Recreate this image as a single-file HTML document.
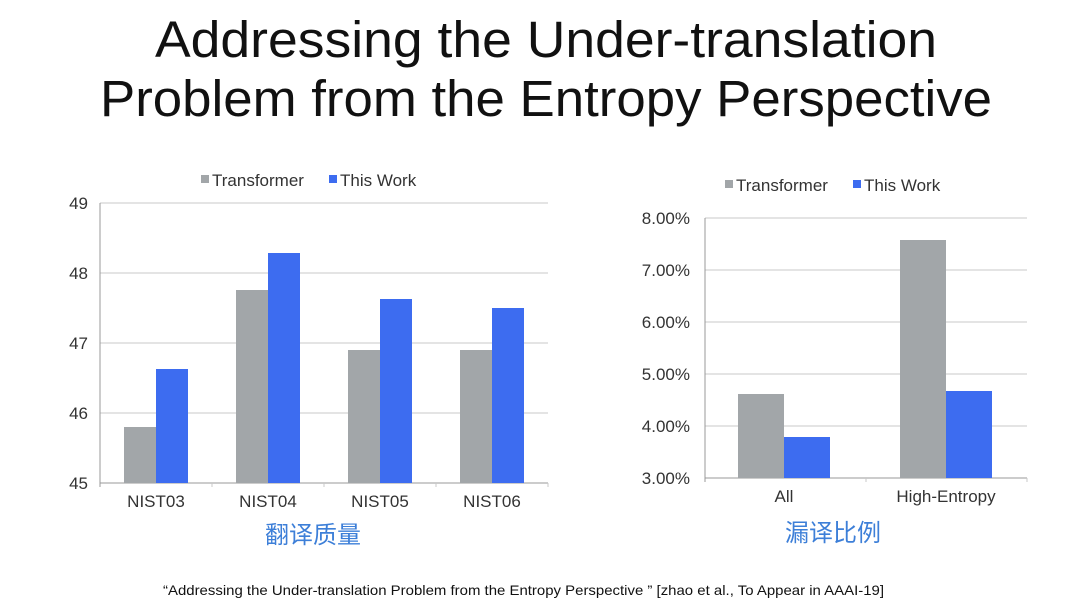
<!DOCTYPE html>
<html><head><meta charset="utf-8"><style>
body{margin:0;background:#fff;width:1080px;height:605px;overflow:hidden}
text{font-family:"Liberation Sans","Noto Sans CJK SC",sans-serif}
</style></head><body>
<svg width="1080" height="605" xmlns="http://www.w3.org/2000/svg">
<text x="155" y="57" font-size="51" fill="#111" textLength="782" lengthAdjust="spacingAndGlyphs">Addressing the Under-translation</text>
<text x="100" y="116" font-size="51" fill="#111" textLength="892" lengthAdjust="spacingAndGlyphs">Problem from the Entropy Perspective</text>
<!-- left chart -->
<g stroke="#c8c8c8" stroke-width="1">
<line x1="100" y1="203" x2="548" y2="203"/><line x1="100" y1="273" x2="548" y2="273"/>
<line x1="100" y1="343" x2="548" y2="343"/><line x1="100" y1="413" x2="548" y2="413"/>
<line x1="100" y1="483" x2="548" y2="483" stroke="#999"/>
<line x1="100" y1="203" x2="100" y2="487" stroke="#999"/>
<line x1="212" y1="483" x2="212" y2="487"/><line x1="324" y1="483" x2="324" y2="487"/><line x1="436" y1="483" x2="436" y2="487"/><line x1="548" y1="483" x2="548" y2="487"/>
</g>
<g fill="#a2a6a9">
<rect x="124" y="427" width="32" height="56"/><rect x="236" y="290" width="32" height="193"/>
<rect x="348" y="350" width="32" height="133"/><rect x="460" y="350" width="32" height="133"/>
</g>
<g fill="#3d6cf0">
<rect x="156" y="369" width="32" height="114"/><rect x="268" y="253" width="32" height="230"/>
<rect x="380" y="299" width="32" height="184"/><rect x="492" y="308" width="32" height="175"/>
</g>
<g font-size="17" fill="#333" text-anchor="end">
<text x="88" y="209">49</text><text x="88" y="279">48</text><text x="88" y="349">47</text><text x="88" y="419">46</text><text x="88" y="489">45</text>
</g>
<g font-size="17" fill="#333" text-anchor="middle">
<text x="156" y="507">NIST03</text><text x="268" y="507">NIST04</text><text x="380" y="507">NIST05</text><text x="492" y="507">NIST06</text>
</g>
<rect x="201" y="175" width="8" height="8" fill="#a2a6a9"/><text x="212" y="186" font-size="17" fill="#333">Transformer</text>
<rect x="329" y="175" width="8" height="8" fill="#3d6cf0"/><text x="340" y="186" font-size="17" fill="#333">This Work</text>
<text x="313" y="543" font-size="24" fill="#3d7fd8" text-anchor="middle">翻译质量</text>
<!-- right chart -->
<g stroke="#c8c8c8" stroke-width="1">
<line x1="705" y1="218" x2="1027" y2="218"/><line x1="705" y1="270" x2="1027" y2="270"/>
<line x1="705" y1="322" x2="1027" y2="322"/><line x1="705" y1="374" x2="1027" y2="374"/>
<line x1="705" y1="426" x2="1027" y2="426"/>
<line x1="705" y1="478" x2="1027" y2="478" stroke="#999"/>
<line x1="705" y1="218" x2="705" y2="482" stroke="#999"/>
<line x1="866" y1="478" x2="866" y2="482"/><line x1="1027" y1="478" x2="1027" y2="482"/>
</g>
<rect x="738" y="394" width="46" height="84" fill="#a2a6a9"/>
<rect x="784" y="437" width="46" height="41" fill="#3d6cf0"/>
<rect x="900" y="240" width="46" height="238" fill="#a2a6a9"/>
<rect x="946" y="391" width="46" height="87" fill="#3d6cf0"/>
<g font-size="17" fill="#333" text-anchor="end">
<text x="690" y="224">8.00%</text><text x="690" y="276">7.00%</text><text x="690" y="328">6.00%</text>
<text x="690" y="380">5.00%</text><text x="690" y="432">4.00%</text><text x="690" y="484">3.00%</text>
</g>
<g font-size="17" fill="#333" text-anchor="middle">
<text x="784" y="502">All</text><text x="946" y="502">High-Entropy</text>
</g>
<rect x="725" y="180" width="8" height="8" fill="#a2a6a9"/><text x="736" y="191" font-size="17" fill="#333">Transformer</text>
<rect x="853" y="180" width="8" height="8" fill="#3d6cf0"/><text x="864" y="191" font-size="17" fill="#333">This Work</text>
<text x="833" y="541" font-size="24" fill="#3d7fd8" text-anchor="middle">漏译比例</text>
<text x="163" y="595" font-size="14" fill="#111" textLength="721" lengthAdjust="spacingAndGlyphs">“Addressing the Under-translation Problem from the Entropy Perspective ”  [zhao et al., To Appear in AAAI-19]</text>
</svg>
</body></html>
